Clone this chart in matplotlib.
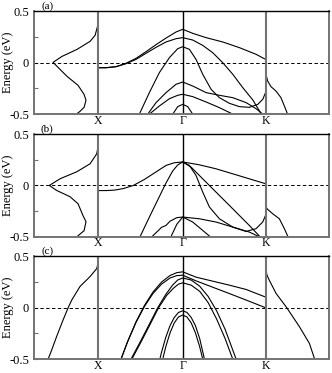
import matplotlib
matplotlib.use('Agg')
from matplotlib import pyplot as plt

plt.rcParams['font.family'] = ['Liberation Serif', 'DejaVu Serif']
plt.rcParams['axes.unicode_minus'] = False
plt.rcParams['font.size'] = 9

#----------------------------------
# k-path: X at 0, Gamma at 1, K at 1.978; DOS drawn left of X, extra curve right of K
kpt_pos = [0.0, 1.0, 1.978]
kpt_labels = ['X', 'Γ', 'K']
x_range = (-0.756, 2.727)
e_ticks = [0.5, 0.0, -0.5]
e_tick_labels = ['0.5', '0', '-0.5']
panel_tags = ['(a)', '(b)', '(c)']

#----------------------------------
# panel (a)
a_dos_x = [0.0, -0.006, -0.035, -0.094, -0.248, -0.425, -0.531, -0.472, -0.366, -0.236, -0.165, -0.142, -0.165, -0.213, -0.260]
a_dos_y = [0.47, 0.352, 0.265, 0.207, 0.129, 0.061, 0.003, -0.046, -0.133, -0.220, -0.308, -0.366, -0.434, -0.473, -0.502]
a_b1_x = [0.0, 0.094, 0.213, 0.331, 0.449, 0.567, 0.685, 0.803, 0.921, 1.0, 1.118, 1.276, 1.472, 1.669, 1.866, 1.978]
a_b1_y = [-0.049, -0.049, -0.039, -0.006, 0.042, 0.107, 0.175, 0.239, 0.298, 0.324, 0.285, 0.243, 0.201, 0.146, 0.081, 0.032]
a_b2_x = [0.0, 0.094, 0.213, 0.331, 0.449, 0.567, 0.685, 0.803, 0.921, 1.0, 1.118, 1.236, 1.354, 1.472, 1.591, 1.709, 1.827, 1.925]
a_b2_y = [-0.049, -0.049, -0.039, -0.010, 0.032, 0.091, 0.149, 0.201, 0.233, 0.243, 0.220, 0.168, 0.097, 0.0, -0.113, -0.243, -0.362, -0.495]
a_b3_x = [0.488, 0.606, 0.724, 0.843, 0.941, 1.0, 1.079, 1.157, 1.236, 1.335, 1.433, 1.551, 1.669, 1.787, 1.886, 1.945, 1.978]
a_b3_y = [-0.5, -0.291, -0.097, 0.049, 0.136, 0.155, 0.129, 0.032, -0.113, -0.259, -0.340, -0.395, -0.427, -0.434, -0.405, -0.356, -0.29]
a_b4_x = [0.587, 0.685, 0.803, 0.921, 1.0, 1.118, 1.276, 1.433, 1.591, 1.748, 1.866, 1.945]
a_b4_y = [-0.5, -0.388, -0.291, -0.210, -0.188, -0.227, -0.291, -0.317, -0.340, -0.388, -0.447, -0.5]
a_b5_x = [0.606, 0.724, 0.843, 0.941, 1.0, 1.118, 1.276, 1.433, 1.591]
a_b5_y = [-0.5, -0.421, -0.350, -0.317, -0.307, -0.330, -0.382, -0.437, -0.5]
a_b6_x = [0.882, 0.941, 1.0, 1.059, 1.118]
a_b6_y = [-0.5, -0.427, -0.405, -0.427, -0.5]
a_k_x = [1.978, 1.983, 2.003, 2.042, 2.101, 2.160, 2.200, 2.239]
a_k_y = [-0.09, -0.114, -0.179, -0.233, -0.276, -0.340, -0.421, -0.502]

#----------------------------------
# panel (b)
b_dos_x = [0.0, -0.015, -0.094, -0.251, -0.449, -0.575, -0.488, -0.331, -0.236, -0.177, -0.142, -0.165, -0.236]
b_dos_y = [0.38, 0.310, 0.212, 0.134, 0.065, 0.0, -0.049, -0.110, -0.179, -0.296, -0.355, -0.443, -0.492]
b_b1_x = [0.0, 0.1, 0.2, 0.3, 0.417, 0.55, 0.68, 0.803, 0.9, 1.0, 1.196, 1.393, 1.590, 1.786, 1.978]
b_b1_y = [-0.05, -0.05, -0.045, -0.03, 0.0, 0.06, 0.13, 0.196, 0.222, 0.23, 0.202, 0.163, 0.114, 0.065, 0.017]
b_b2_x = [0.497, 0.60, 0.70, 0.80, 0.88, 0.94, 1.0, 1.078, 1.157, 1.236, 1.315, 1.433, 1.590, 1.747, 1.865, 1.944, 1.978]
b_b2_y = [-0.5, -0.32, -0.15, 0.02, 0.14, 0.2, 0.23, 0.196, 0.098, -0.065, -0.211, -0.326, -0.407, -0.450, -0.423, -0.358, -0.293]
b_b3_x = [1.0, 1.098, 1.196, 1.393, 1.590, 1.786, 1.905]
b_b3_y = [0.23, 0.18, 0.098, -0.065, -0.228, -0.391, -0.495]
b_b4_x = [0.638, 0.75, 0.803, 0.85, 0.93, 1.0, 1.196, 1.393, 1.590, 1.786, 1.886]
b_b4_y = [-0.5, -0.41, -0.391, -0.35, -0.315, -0.309, -0.326, -0.358, -0.407, -0.456, -0.495]
b_b5_x = [0.862, 0.93, 1.0, 1.118, 1.236, 1.315]
b_b5_y = [-0.5, -0.38, -0.309, -0.358, -0.44, -0.495]
b_k_x = [1.978, 1.983, 2.003, 2.062, 2.141, 2.200, 2.239]
b_k_y = [-0.19, -0.211, -0.234, -0.277, -0.326, -0.423, -0.495]

#----------------------------------
# panel (c)
c_dos_x = [0.0, -0.004, -0.015, -0.094, -0.213, -0.311, -0.351, -0.413, -0.488, -0.547, -0.590]
c_dos_y = [0.46, 0.42, 0.382, 0.304, 0.207, 0.074, 0.003, -0.120, -0.279, -0.412, -0.502]
c_b1_x = [0.272, 0.35, 0.45, 0.55, 0.65, 0.75, 0.85, 0.93, 1.0, 1.157, 1.354, 1.551, 1.748, 1.978]
c_b1_y = [-0.5, -0.328, -0.135, 0.025, 0.154, 0.25, 0.314, 0.342, 0.35, 0.298, 0.259, 0.220, 0.178, 0.104]
c_b2_x = [0.272, 0.35, 0.45, 0.55, 0.65, 0.75, 0.85, 0.93, 1.0, 1.157, 1.354, 1.551, 1.748, 1.978]
c_b2_y = [-0.5, -0.33, -0.14, 0.015, 0.14, 0.23, 0.29, 0.313, 0.317, 0.262, 0.200, 0.138, 0.075, 0.0]
c_b3_x = [0.39, 0.50, 0.60, 0.705, 0.80, 0.88, 0.94, 1.0, 1.1, 1.2, 1.3, 1.4, 1.5, 1.63]
c_b3_y = [-0.5, -0.33, -0.17, 0.0, 0.13, 0.22, 0.27, 0.29, 0.27, 0.21, 0.11, -0.03, -0.21, -0.5]
c_b4_x = [0.40, 0.51, 0.61, 0.715, 0.81, 0.89, 0.95, 1.0, 1.1, 1.2, 1.3, 1.4, 1.5, 1.59]
c_b4_y = [-0.5, -0.33, -0.17, 0.0, 0.12, 0.19, 0.23, 0.243, 0.22, 0.16, 0.05, -0.11, -0.30, -0.5]
c_b5_x = [0.73, 0.75, 0.80, 0.85, 0.90, 0.95, 1.0, 1.05, 1.10, 1.15, 1.20, 1.256]
c_b5_y = [-0.5, -0.433, -0.288, -0.175, -0.095, -0.046, -0.03, -0.046, -0.095, -0.175, -0.30, -0.5]
c_b6_x = [0.764, 0.80, 0.85, 0.90, 0.95, 1.0, 1.05, 1.10, 1.15, 1.20, 1.236]
c_b6_y = [-0.5, -0.38, -0.245, -0.148, -0.09, -0.071, -0.09, -0.148, -0.245, -0.38, -0.5]
c_k_x = [1.978, 1.983, 1.995, 2.022, 2.102, 2.220, 2.377, 2.495, 2.554]
c_k_y = [0.44, 0.365, 0.317, 0.268, 0.139, 0.01, -0.184, -0.347, -0.492]

panel_curves = [
    [(a_dos_x, a_dos_y), (a_b1_x, a_b1_y), (a_b2_x, a_b2_y), (a_b3_x, a_b3_y),
     (a_b4_x, a_b4_y), (a_b5_x, a_b5_y), (a_b6_x, a_b6_y), (a_k_x, a_k_y)],
    [(b_dos_x, b_dos_y), (b_b1_x, b_b1_y), (b_b2_x, b_b2_y), (b_b3_x, b_b3_y),
     (b_b4_x, b_b4_y), (b_b5_x, b_b5_y), (b_k_x, b_k_y)],
    [(c_dos_x, c_dos_y), (c_b1_x, c_b1_y), (c_b2_x, c_b2_y), (c_b3_x, c_b3_y),
     (c_b4_x, c_b4_y), (c_b5_x, c_b5_y), (c_b6_x, c_b6_y), (c_k_x, c_k_y)],
]

#----------------------------------
# layout: three stacked panels
fig = plt.figure(figsize=(3.32, 3.73), dpi=100)
boxes = [(0.1024, 0.694, 0.8886, 0.276),
         (0.1024, 0.3658, 0.8886, 0.274),
         (0.1024, 0.0375, 0.8886, 0.275)]
edge_grey = '0.45'

for box, tag, curves in zip(boxes, panel_tags, panel_curves):
    ax = fig.add_axes(box)
    for xs, ys in curves:
        ax.plot(xs, ys, color='k', lw=0.8, solid_joinstyle='round')
    ax.axhline(0.0, color='k', lw=0.7, ls=(0, (3.5, 2.5)))
    ax.axvline(kpt_pos[0], color=edge_grey, lw=1.5)
    ax.axvline(kpt_pos[1], color='k', lw=1.0)
    ax.axvline(kpt_pos[2], color=edge_grey, lw=1.5)
    ax.set_xlim(*x_range)
    ax.set_ylim(-0.5, 0.5)
    ax.set_xticks(kpt_pos)
    ax.set_xticklabels(kpt_labels)
    ax.tick_params(axis='x', length=0, pad=0.5, labelsize=8.5)
    ax.set_yticks(e_ticks)
    ax.set_yticklabels(e_tick_labels)
    ax.set_yticks([0.25, -0.25], minor=True)
    ax.tick_params(axis='y', which='both', direction='in', length=3, width=0.8,
                   color=edge_grey, pad=3.5)
    for side in ['left', 'bottom', 'right']:
        ax.spines[side].set_color(edge_grey)
        ax.spines[side].set_linewidth(1.4)
    ax.spines['top'].set_linewidth(1.0)
    ax.text(0.045, 1.052, tag, transform=ax.transAxes, ha='center', va='center',
            fontsize=8)
    ax.text(-0.088, 0.5, 'Energy (eV)', transform=ax.transAxes, rotation=90,
            ha='center', va='center')

fig.savefig('out.png', dpi=100)
